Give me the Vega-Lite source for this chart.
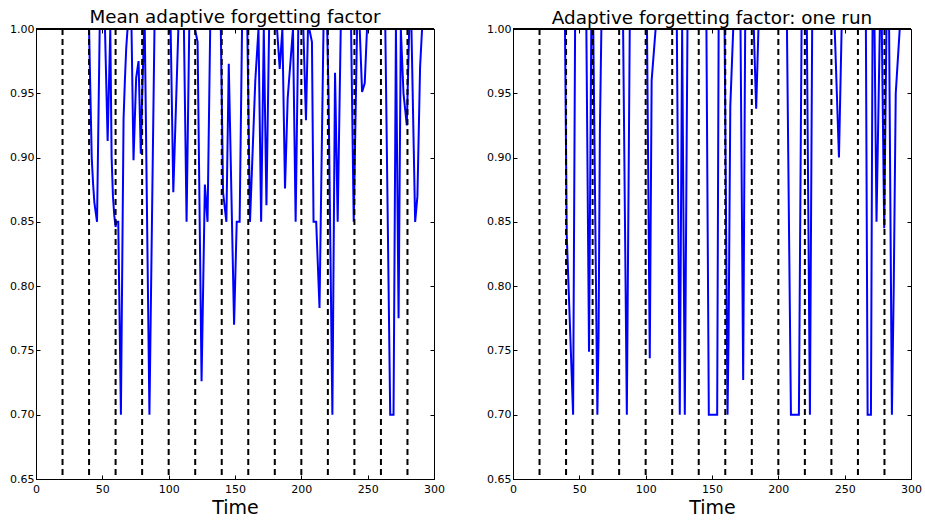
{
  "$schema": "https://vega.github.io/schema/vega-lite/v6.json",
  "padding": {"left": 9, "top": 7, "right": 5, "bottom": 0},
  "spacing": 41,
  "config": {
    "font": "DejaVu Sans",
    "view": {"stroke": "black", "strokeWidth": 1},
    "axis": {"labelFont": "DejaVu Sans", "labelFontSize": 11, "labelColor": "black", "domainColor": "black", "tickColor": "black", "grid": false, "titleFont": "DejaVu Sans", "titleFontWeight": "normal", "titleColor": "black", "titleFontSize": 19, "labelFlush": false, "tickSize": -4, "labelPadding": 6},
    "title": {"font": "DejaVu Sans", "fontSize": 18.3, "fontWeight": "normal", "color": "black", "offset": -4}
  },
  "datasets": {
    "mean": [
      {"t":0,"v":1},{"t":40,"v":1},{"t":41,"v":0.95},{"t":42,"v":0.9},{"t":43,"v":0.88},{"t":44,"v":0.865},{"t":46,"v":0.85},{"t":48,"v":1},{"t":52,"v":1},{"t":54,"v":0.913},{"t":56,"v":1},{"t":57,"v":0.9},{"t":58,"v":0.87},{"t":59,"v":0.855},{"t":60,"v":0.846},{"t":60.5,"v":0.85},{"t":62,"v":0.85},{"t":64,"v":0.7},{"t":66,"v":0.93},{"t":67,"v":0.96},{"t":68,"v":0.985},{"t":69,"v":1},{"t":72,"v":1},{"t":73.5,"v":0.898},{"t":75.5,"v":0.962},{"t":77.3,"v":0.975},{"t":79,"v":0.903},{"t":79.8,"v":0.94},{"t":81.5,"v":1},{"t":82,"v":1},{"t":85.5,"v":0.7},{"t":89.3,"v":1},{"t":101.5,"v":1},{"t":103.5,"v":0.873},{"t":107.3,"v":1},{"t":111.5,"v":1},{"t":113.5,"v":0.85},{"t":115.5,"v":1},{"t":119.8,"v":1},{"t":121.8,"v":0.99},{"t":124.8,"v":0.726},{"t":127.3,"v":0.879},{"t":129.3,"v":0.85},{"t":131.3,"v":1},{"t":139.3,"v":1},{"t":141,"v":0.873},{"t":143.5,"v":0.85},{"t":145.3,"v":0.973},{"t":149.3,"v":0.77},{"t":151.3,"v":0.85},{"t":153.5,"v":0.85},{"t":155.3,"v":1},{"t":159.3,"v":1},{"t":161.3,"v":0.85},{"t":165.3,"v":0.96},{"t":167.7,"v":1},{"t":169.7,"v":0.85},{"t":171.7,"v":1},{"t":173.7,"v":0.863},{"t":175.7,"v":1},{"t":181.7,"v":1},{"t":183.7,"v":0.969},{"t":185.7,"v":1},{"t":187.7,"v":0.876},{"t":189.7,"v":0.946},{"t":193.7,"v":1},{"t":195.7,"v":0.85},{"t":197.7,"v":1},{"t":201.5,"v":1},{"t":203.5,"v":0.929},{"t":205,"v":1},{"t":206,"v":1},{"t":208,"v":0.99},{"t":209.2,"v":0.85},{"t":211.2,"v":0.85},{"t":213.7,"v":0.783},{"t":216.7,"v":1},{"t":219.5,"v":1},{"t":220.5,"v":0.95},{"t":223.4,"v":0.7},{"t":225.4,"v":0.966},{"t":227.4,"v":0.85},{"t":229.7,"v":1},{"t":237.5,"v":1},{"t":239.5,"v":0.85},{"t":242,"v":1},{"t":244,"v":1},{"t":245.8,"v":0.951},{"t":247.8,"v":0.958},{"t":249.5,"v":1},{"t":263.3,"v":1},{"t":267,"v":0.7},{"t":269.5,"v":0.7},{"t":271.3,"v":1},{"t":273.3,"v":0.775},{"t":275,"v":1},{"t":277,"v":0.95},{"t":279.5,"v":0.925},{"t":281.3,"v":1},{"t":283,"v":1},{"t":285.8,"v":0.85},{"t":287.5,"v":0.87},{"t":289.5,"v":0.97},{"t":291,"v":1},{"t":299,"v":1}
    ],
    "run": [
      {"t":0,"v":1},{"t":39.2,"v":1},{"t":40.5,"v":0.84},{"t":45.3,"v":0.7},{"t":46.8,"v":1},{"t":55.3,"v":1},{"t":57.3,"v":0.749},{"t":59,"v":1},{"t":60.5,"v":1},{"t":63.6,"v":0.7},{"t":64.5,"v":0.76},{"t":65.5,"v":0.92},{"t":66.6,"v":1},{"t":83,"v":1},{"t":85.8,"v":0.7},{"t":88,"v":1},{"t":101,"v":1},{"t":103.1,"v":0.744},{"t":104.5,"v":0.96},{"t":107.5,"v":1},{"t":123.5,"v":1},{"t":125.7,"v":0.7},{"t":127.5,"v":1},{"t":129.5,"v":0.7},{"t":131.5,"v":1},{"t":145.8,"v":1},{"t":147.6,"v":0.7},{"t":153.9,"v":0.7},{"t":155,"v":1},{"t":159.5,"v":1},{"t":161.7,"v":0.7},{"t":162.5,"v":0.76},{"t":163.8,"v":0.94},{"t":166,"v":1},{"t":171.5,"v":1},{"t":173.5,"v":0.727},{"t":175,"v":1},{"t":181.5,"v":1},{"t":183.3,"v":0.938},{"t":185,"v":1},{"t":206.5,"v":1},{"t":209.5,"v":0.7},{"t":215.5,"v":0.7},{"t":217.5,"v":1},{"t":221.5,"v":1},{"t":223.8,"v":0.7},{"t":225.5,"v":1},{"t":242.5,"v":1},{"t":245.7,"v":0.9},{"t":247.7,"v":1},{"t":266,"v":1},{"t":267.3,"v":0.7},{"t":269.8,"v":0.7},{"t":271,"v":1},{"t":272.5,"v":1},{"t":274,"v":0.85},{"t":276.5,"v":1},{"t":278,"v":1},{"t":279.8,"v":0.845},{"t":281.5,"v":1},{"t":283.5,"v":1},{"t":285.6,"v":0.7},{"t":287,"v":0.8},{"t":288.5,"v":0.95},{"t":291.5,"v":1},{"t":299,"v":1}
    ],
    "vl": [{"t":20},{"t":40},{"t":60},{"t":80},{"t":100},{"t":120},{"t":140},{"t":160},{"t":180},{"t":200},{"t":220},{"t":240},{"t":260},{"t":280}]
  },
  "hconcat": [
    {
      "width": 398, "height": 450,
      "title": {"text": "Mean adaptive forgetting factor"},
      "layer": [
        {
          "data": {"name": "mean"},
          "mark": {"type": "line", "color": "#0000ff", "strokeWidth": 2, "clip": true},
          "encoding": {
            "x": {"field": "t", "type": "quantitative", "scale": {"domain": [0, 300], "nice": false}, "axis": {"title": "Time", "values": [0,50,100,150,200,250,300], "format": "d", "labelPadding": 8, "titlePadding": 4}},
            "y": {"field": "v", "type": "quantitative", "scale": {"domain": [0.65, 1.0], "nice": false, "zero": false}, "axis": {"title": null, "values": [0.65,0.7,0.75,0.8,0.85,0.9,0.95,1.0], "format": ".2f"}}
          }
        },
        {
          "data": {"name": "vl"},
          "mark": {"type": "rule", "color": "black", "strokeWidth": 2, "strokeDash": [6, 4]},
          "encoding": {"x": {"field": "t", "type": "quantitative", "axis": {"orient": "top", "labels": false, "title": null, "values": [0,50,100,150,200,250,300], "domain": false}}}
        },
        {
          "data": {"values": [{"y": 1}]},
          "mark": {"type": "rule", "color": "black", "strokeWidth": 2},
          "encoding": {"y": {"field": "y", "type": "quantitative", "axis": {"orient": "right", "labels": false, "title": null, "values": [0.65,0.7,0.75,0.8,0.85,0.9,0.95,1.0], "domain": false}}}
        }
      ],
      "resolve": {"axis": {"x": "independent", "y": "independent"}}
    },
    {
      "width": 398, "height": 450,
      "title": {"text": "Adaptive forgetting factor: one run", "fontSize": 18.4},
      "layer": [
        {
          "data": {"name": "run"},
          "mark": {"type": "line", "color": "#0000ff", "strokeWidth": 2, "clip": true},
          "encoding": {
            "x": {"field": "t", "type": "quantitative", "scale": {"domain": [0, 300], "nice": false}, "axis": {"title": "Time", "values": [0,50,100,150,200,250,300], "format": "d", "labelPadding": 8, "titlePadding": 4}},
            "y": {"field": "v", "type": "quantitative", "scale": {"domain": [0.65, 1.0], "nice": false, "zero": false}, "axis": {"title": null, "values": [0.65,0.7,0.75,0.8,0.85,0.9,0.95,1.0], "format": ".2f"}}
          }
        },
        {
          "data": {"name": "vl"},
          "mark": {"type": "rule", "color": "black", "strokeWidth": 2, "strokeDash": [6, 4]},
          "encoding": {"x": {"field": "t", "type": "quantitative", "axis": {"orient": "top", "labels": false, "title": null, "values": [0,50,100,150,200,250,300], "domain": false}}}
        },
        {
          "data": {"values": [{"y": 1}]},
          "mark": {"type": "rule", "color": "black", "strokeWidth": 2},
          "encoding": {"y": {"field": "y", "type": "quantitative", "axis": {"orient": "right", "labels": false, "title": null, "values": [0.65,0.7,0.75,0.8,0.85,0.9,0.95,1.0], "domain": false}}}
        }
      ],
      "resolve": {"axis": {"x": "independent", "y": "independent"}}
    }
  ]
}
